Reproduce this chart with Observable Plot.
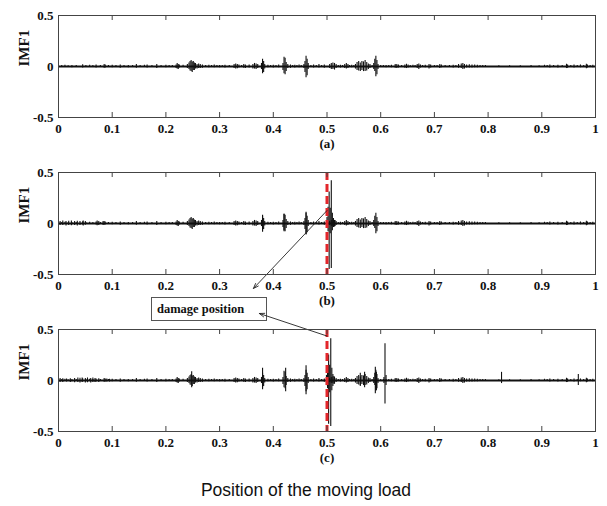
<!DOCTYPE html>
<html>
<head>
<meta charset="utf-8">
<script src="https://cdn.jsdelivr.net/npm/d3@7"></script>
<script src="https://cdn.jsdelivr.net/npm/@observablehq/plot@0.6"></script>
<style>
  html, body { margin: 0; padding: 0; background: #fff; }
  #fig { position: relative; width: 607px; height: 506px; overflow: hidden; background: #fff; }
  #fig svg { position: absolute; left: 0; }
  .tag {
    position: absolute; left: 151px; top: 297px; width: 116px; height: 24px;
    box-sizing: border-box; border: 1px solid #555;
    font: bold 12.5px "Liberation Serif", "Times New Roman", serif;
    line-height: 22px; padding-left: 5px; color: #111;
  }
  .xtitle {
    position: absolute; left: 0; width: 612px; top: 480px; text-align: center;
    font: 17.5px "Liberation Sans", Arial, sans-serif; color: #111;
  }
</style>
</head>
<body>
<div id="fig"></div>
<script>
// Axis ticks and panel captions
const xTicks = [0, 0.1, 0.2, 0.3, 0.4, 0.5, 0.6, 0.7, 0.8, 0.9, 1];
const yTicks = [-0.5, 0, 0.5];
const panelTags = ["(a)", "(b)", "(c)"];
const damageAt = 0.5;
const tagText = "damage position";
const xTitle = "Position of the moving load";

// IMF1 oscillation peaks: [position, peak, trough]
const imfA = [
  [0.006,.01,-.01],[0.012,.012,-.01],[0.018,.008,-.01],[0.025,.01,-.012],[0.033,.01,-.008],
  [0.045,.018,-.015],[0.051,.01,-.01],[0.058,.012,-.01],[0.064,.01,-.01],[0.07,.015,-.015],
  [0.078,.01,-.01],[0.085,.02,-.018],[0.087,.015,-.015],[0.093,.01,-.01],[0.1,.012,-.012],
  [0.107,.01,-.01],[0.115,.015,-.018],[0.122,.01,-.01],[0.13,.01,-.012],[0.138,.01,-.01],
  [0.145,.02,-.018],[0.152,.01,-.01],[0.16,.012,-.01],[0.165,.015,-.015],[0.174,.01,-.01],
  [0.183,.02,-.02],[0.191,.01,-.01],[0.2,.012,-.012],[0.206,.01,-.01],
  [0.212,.01,-.01],[0.219,.015,-.02],[0.221,.03,-.025],[0.223,.02,-.03],[0.225,.015,-.015],
  [0.232,.012,-.01],[0.24,.02,-.02],[0.243,.035,-.03],[0.245,.05,-.045],[0.247,.06,-.05],[0.249,.045,-.06],
  [0.251,.05,-.04],[0.253,.035,-.04],[0.255,.03,-.025],[0.258,.02,-.025],[0.261,.025,-.02],
  [0.264,.02,-.02],[0.268,.015,-.018],[0.274,.01,-.01],[0.28,.012,-.012],[0.285,.01,-.01],
  [0.29,.015,-.012],[0.295,.01,-.01],[0.3,.01,-.012],[0.305,.01,-.01],
  [0.31,.012,-.015],[0.318,.01,-.01],[0.327,.02,-.02],[0.33,.025,-.025],[0.333,.02,-.022],[0.336,.015,-.015],
  [0.341,.01,-.01],[0.345,.02,-.018],[0.348,.015,-.02],[0.355,.015,-.015],[0.362,.02,-.025],[0.365,.03,-.025],
  [0.368,.025,-.03],[0.371,.02,-.02],[0.378,.03,-.03],[0.38,.07,-.07],[0.382,.05,-.06],
  [0.384,.02,-.025],[0.39,.012,-.012],[0.395,.01,-.01],[0.4,.012,-.015],[0.405,.01,-.01],
  [0.41,.015,-.012],[0.418,.03,-.04],
  [0.42,.09,-.07],[0.422,.08,-.08],[0.424,.04,-.05],[0.427,.02,-.02],[0.432,.015,-.018],
  [0.436,.01,-.01],[0.44,.012,-.015],[0.444,.01,-.01],[0.448,.015,-.012],[0.452,.01,-.01],
  [0.457,.02,-.02],[0.459,.05,-.06],[0.461,.1,-.11],
  [0.463,.07,-.09],[0.465,.03,-.03],[0.47,.01,-.01],[0.475,.015,-.015],[0.48,.01,-.01],
  [0.485,.02,-.015],[0.49,.01,-.01],[0.495,.015,-.018],
  [0.505,.02,-.02],[0.508,.03,-.03],[0.511,.035,-.03],[0.514,.03,-.035],[0.517,.02,-.02],
  [0.521,.01,-.01],[0.525,.012,-.015],[0.529,.01,-.01],[0.533,.02,-.02],[0.536,.03,-.025],
  [0.539,.02,-.02],[0.542,.01,-.01],[0.546,.012,-.012],[0.55,.01,-.01],
  [0.553,.02,-.025],[0.556,.04,-.04],[0.559,.05,-.045],[0.562,.035,-.05],[0.565,.05,-.04],
  [0.568,.045,-.05],[0.571,.06,-.05],[0.574,.04,-.045],[0.577,.025,-.03],[0.58,.02,-.02],
  [0.584,.01,-.01],[0.587,.03,-.03],[0.589,.07,-.05],[0.591,.1,-.1],[0.593,.06,-.08],[0.595,.02,-.03],
  [0.6,.01,-.01],[0.605,.01,-.01],[0.61,.01,-.012],[0.615,.01,-.01],[0.62,.012,-.012],
  [0.627,.02,-.018],[0.63,.02,-.02],[0.633,.015,-.015],[0.639,.01,-.01],
  [0.645,.015,-.018],[0.648,.022,-.02],[0.651,.015,-.015],[0.655,.01,-.01],[0.66,.012,-.01],
  [0.664,.01,-.01],[0.668,.02,-.02],
  [0.671,.025,-.03],[0.674,.015,-.015],[0.678,.01,-.01],[0.683,.012,-.012],[0.69,.02,-.025],[0.693,.015,-.015],
  [0.7,.01,-.01],[0.705,.01,-.01],[0.71,.02,-.02],[0.713,.015,-.012],[0.72,.01,-.01],[0.728,.01,-.01],
  [0.735,.012,-.015],[0.74,.01,-.01],
  [0.745,.02,-.018],[0.75,.025,-.02],[0.753,.03,-.03],[0.756,.02,-.025],[0.76,.015,-.015],
  [0.765,.018,-.015],[0.77,.015,-.015],[0.775,.015,-.012],[0.78,.012,-.012],[0.785,.01,-.01],
  [0.79,.01,-.01],[0.795,.01,-.01],
  [0.82,.008,-.008],[0.84,.008,-.01],[0.86,.008,-.008],[0.88,.01,-.008],[0.895,.008,-.008],[0.905,.012,-.01],
  [0.91,.01,-.01],[0.915,.015,-.015],[0.922,.01,-.01],[0.93,.012,-.015],[0.938,.01,-.01],
  [0.946,.022,-.02],[0.948,.015,-.018],[0.954,.01,-.01],[0.96,.015,-.015],[0.966,.01,-.01],
  [0.972,.015,-.012],[0.978,.01,-.01],[0.983,.022,-.022],[0.985,.015,-.015],[0.99,.01,-.01],[0.995,.012,-.012]
];

// Extra response in the damaged cases (added to the common record)
const extraB = [
  [0.003,.02,-.02],[0.008,.025,-.02],[0.014,.02,-.025],[0.019,.022,-.02],[0.024,.025,-.022],
  [0.03,.02,-.02],[0.035,.022,-.025],[0.04,.02,-.02],[0.046,.025,-.025],[0.05,.02,-.018],
  [0.072,.025,-.022],[0.075,.02,-.02],[0.083,.02,-.02],[0.38,.08,-.085],[0.42,.09,-.08],
  [0.461,.11,-.11],
  [0.5,.06,-.05],[0.502,.16,-.08],[0.504,.31,-.45],[0.506,.15,-.1],[0.508,.42,-.44],
  [0.51,.1,-.07],[0.512,.05,-.04],[0.515,.03,-.03]
];
const extraC = [
  [0.003,.02,-.02],[0.008,.018,-.02],[0.015,.015,-.015],[0.022,.018,-.02],[0.03,.02,-.022],
  [0.036,.025,-.02],[0.04,.022,-.025],[0.044,.025,-.02],[0.05,.02,-.025],[0.054,.025,-.022],
  [0.06,.02,-.025],[0.064,.025,-.02],[0.068,.02,-.02],[0.075,.018,-.02],[0.09,.015,-.015],
  [0.095,.012,-.015],[0.248,.085,-.07],[0.38,.12,-.09],[0.423,.12,-.11],[0.461,.145,-.14],
  [0.499,.05,-.05],[0.501,.12,-.08],[0.503,.25,-.43],[0.505,.15,-.12],[0.507,.41,-.45],
  [0.509,.12,-.1],[0.511,.06,-.06],[0.513,.04,-.04],[0.562,.07,-.06],[0.57,.08,-.07],
  [0.59,.13,-.13],[0.592,.08,-.1],[0.606,.03,-.03],[0.608,.36,-.23],[0.61,.05,-.05],
  [0.825,.08,-.03],[0.968,.06,-.05]
];

// Annotation arrows from the damage location to the label box
const arrowB = [{x1: damageAt, y1: 0.127, x2: 0.363, y2: -0.637}];
const arrowC = [{x1: damageAt, y1: 0.436, x2: 0.374, y2: 0.657}];

const W = 607, mL = 58, mR = 12, frameH = 102;
const serif = '"Liberation Serif", "Times New Roman", serif';

function panel({rows, tag, top, marginTop, marginBottom, damage, arrow}) {
  const marks = [
    Plot.ruleY([0], {stroke: "#111", strokeWidth: 2}),
    Plot.ruleX(rows, {x: d => d[0], y1: d => d[2], y2: d => d[1], stroke: "#111", strokeWidth: 1.1})
  ];
  if (damage) {
    marks.push(Plot.ruleX([damageAt], {x: d => d, stroke: "#e3262b", strokeWidth: 3, strokeDasharray: "8,4"}));
  }
  if (arrow) {
    marks.push(Plot.arrow(arrow, {x1: "x1", y1: "y1", x2: "x2", y2: "y2", stroke: "#222", strokeWidth: 0.9, headLength: 9, headAngle: 40}));
  }
  marks.push(
    Plot.frame({stroke: "#444", strokeWidth: 1}),
    Plot.tickX(xTicks, {x: d => d, stroke: "#444", insetTop: frameH - 5}),
    Plot.tickX(xTicks, {x: d => d, stroke: "#444", insetBottom: frameH - 5}),
    Plot.axisX(xTicks, {anchor: "bottom", tickSize: 0, tickPadding: 6, tickFormat: d => String(d), label: null, fontWeight: "bold"}),
    Plot.axisY(yTicks, {anchor: "left", tickSize: 0, tickPadding: 5, tickFormat: d => String(d), label: null, fontWeight: "bold"}),
    Plot.text(["IMF1"], {frameAnchor: "left", text: d => d, rotate: -90, dx: -34, fontSize: 15, fontWeight: "bold"}),
    Plot.text([tag], {frameAnchor: "bottom", text: d => d, dy: 30, fontSize: 13, fontWeight: "bold"})
  );
  const svg = Plot.plot({
    width: W,
    height: marginTop + frameH + marginBottom,
    marginLeft: mL, marginRight: mR, marginTop, marginBottom,
    x: {domain: [0, 1]},
    y: {domain: [-0.5, 0.5]},
    style: {background: "transparent", fontFamily: serif, fontSize: "13px", color: "#111", overflow: "visible"},
    marks
  });
  svg.style.top = top + "px";
  return svg;
}

const fig = document.getElementById("fig");

const box = document.createElement("div");
box.className = "tag";
box.textContent = tagText;
fig.appendChild(box);

fig.appendChild(panel({rows: imfA, tag: panelTags[0], top: 0, marginTop: 15, marginBottom: 43}));
fig.appendChild(panel({rows: imfA.concat(extraB), tag: panelTags[1], top: 157, marginTop: 15, marginBottom: 44, damage: true, arrow: arrowB}));
fig.appendChild(panel({rows: imfA.concat(extraC), tag: panelTags[2], top: 290, marginTop: 39, marginBottom: 48, damage: true, arrow: arrowC}));

const title = document.createElement("div");
title.className = "xtitle";
title.textContent = xTitle;
fig.appendChild(title);
</script>
</body>
</html>
